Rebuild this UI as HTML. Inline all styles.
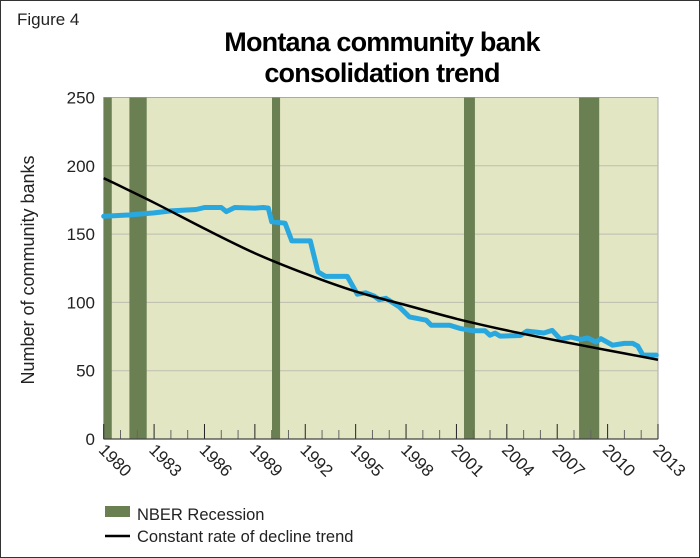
<!DOCTYPE html>
<html><head><meta charset="utf-8"><style>
html,body{margin:0;padding:0;background:#fff}
svg{display:block;font-family:"Liberation Sans",sans-serif}
</style></head><body>
<svg id="chart" width="700" height="558" viewBox="0 0 700 558">
<rect x="0.5" y="0.5" width="699" height="557" fill="#fff" stroke="#333" stroke-width="1"/>
<text x="17" y="25" font-size="17" fill="#222">Figure 4</text>
<text x="382" y="51" font-size="27" font-weight="bold" text-anchor="middle" letter-spacing="-0.8" fill="#000">Montana community bank</text>
<text x="382" y="82" font-size="27" font-weight="bold" text-anchor="middle" letter-spacing="-0.8" fill="#000">consolidation trend</text>
<rect x="103.7" y="97.5" width="554.3" height="341.5" fill="#e2e6c3" stroke="#aaa" stroke-width="1"/>
<g id="grid"></g><g id="rec"></g><g id="ticks"></g><g id="series"></g><g id="labels"></g>
<text transform="translate(34,270) rotate(-90)" font-size="18" text-anchor="middle" fill="#222">Number of community banks</text>
<rect x="105" y="506" width="25" height="11" fill="#6a7f52"/>
<text x="137" y="520" font-size="16.5" fill="#222">NBER Recession</text>
<line x1="105" y1="536" x2="130" y2="536" stroke="#000" stroke-width="2.5"/>
<text x="137" y="542" font-size="16.5" fill="#222">Constant rate of decline trend</text>
</svg>
<script>
const yTicks=[0,50,100,150,200,250];
const xTickYears=[1980,1983,1986,1989,1992,1995,1998,2001,2004,2007,2010,2013];
const recessionStarts=[1980.0,1981.53,1990.02,2001.45,2008.3];
const recessionEnds=[1980.48,1982.56,1990.5,2002.1,2009.5];
const bankYears=[1980,1981.5,1983,1984,1985.5,1986,1987,1987.3,1987.8,1989,1989.5,1989.8,1990.0,1990.8,1991.2,1992.3,1992.75,1993.2,1994.5,1995.1,1995.6,1996.1,1996.4,1996.8,1997.6,1998.2,1999.2,1999.5,2000.6,2001.2,2002.0,2002.7,2003.0,2003.3,2003.6,2004.8,2005.2,2006.2,2006.7,2007.2,2007.8,2008.4,2008.8,2009.3,2009.6,2010.3,2011.0,2011.5,2011.8,2012.1,2012.9];
const bankValues=[163,164,165.5,167,168,169.5,169.5,166.5,169.5,169,169.5,169,159,158,145,145,122.5,119,119,106,107,104.6,102,103,96.7,89.4,87,83.3,83.3,81,79.2,79.2,76,77.5,75.3,75.8,79,77.6,79.5,72.9,74.7,72.9,74,71,73.4,68.7,70,70,68,61.4,61.4];
const trendYears=[1980,1983,1986,1989,1992,1995,1998,2001,2004,2007,2010,2013];
const trendValues=[191,173,154,136,121,108,98,88,79.5,72,65,58];
const X0=103.7,X1=658,Y0=439,Y1=97.5;
const xs=y=>X0+(y-1980)/(2013-1980)*(X1-X0);
const ys=v=>Y0-v/250*(Y0-Y1);
const NS='http://www.w3.org/2000/svg';
function mk(t,a,p){const e=document.createElementNS(NS,t);for(const k in a)e.setAttribute(k,a[k]);p.appendChild(e);return e;}
const grid=document.getElementById('grid'),rec=document.getElementById('rec'),tk=document.getElementById('ticks'),ser=document.getElementById('series'),lab=document.getElementById('labels');
yTicks.forEach(v=>{
 if(v>0&&v<250){const l=mk('line',{x1:X0,x2:X1,y1:ys(v),y2:ys(v),stroke:'#bdbdb0','stroke-width':1},grid);
 
 }
 const t=mk('text',{x:95,y:ys(v)+6,'font-size':17,'text-anchor':'end',fill:'#222'},lab);t.textContent=v;
 
 
});
recessionStarts.forEach((s,i)=>{const r=mk('rect',{x:xs(s),y:Y1,width:xs(recessionEnds[i])-xs(s),height:Y0-Y1,fill:'#6a7f52'},rec);
 
 });
for(let y=1980;y<=2013;y++){const major=(y-1980)%3===0;
 const l=mk('line',{x1:xs(y),x2:xs(y),y1:Y0,y2:Y0-(major?15:9),stroke:major?'#222':'#666','stroke-width':1},tk);
 
 }
mk('line',{x1:X0,x2:X1,y1:Y0,y2:Y0,stroke:'#444','stroke-width':1.2},tk);
xTickYears.forEach(y=>{const t=mk('text',{transform:`translate(${xs(y)-6},${Y0+12}) rotate(45)`,'font-size':17,fill:'#222'},lab);t.textContent=y;
 
 });
const bp=bankYears.map((y,i)=>xs(y).toFixed(1)+','+ys(bankValues[i]).toFixed(1)).join(' ');
const bl=mk('polyline',{points:bp,fill:'none',stroke:'#29a8e0','stroke-width':5,'stroke-linejoin':'round','stroke-linecap':'round'},ser);


const P=trendYears.map((y,i)=>[xs(y),ys(trendValues[i])]);
let d='M'+P[0][0]+','+P[0][1];
for(let i=0;i<P.length-1;i++){const p0=P[Math.max(0,i-1)],p1=P[i],p2=P[i+1],p3=P[Math.min(P.length-1,i+2)];
 d+=` C${p1[0]+(p2[0]-p0[0])/6},${p1[1]+(p2[1]-p0[1])/6} ${p2[0]-(p3[0]-p1[0])/6},${p2[1]-(p3[1]-p1[1])/6} ${p2[0]},${p2[1]}`;}
const tl=mk('path',{d:d,fill:'none',stroke:'#000','stroke-width':2.5},ser);


</script>
</body></html>
